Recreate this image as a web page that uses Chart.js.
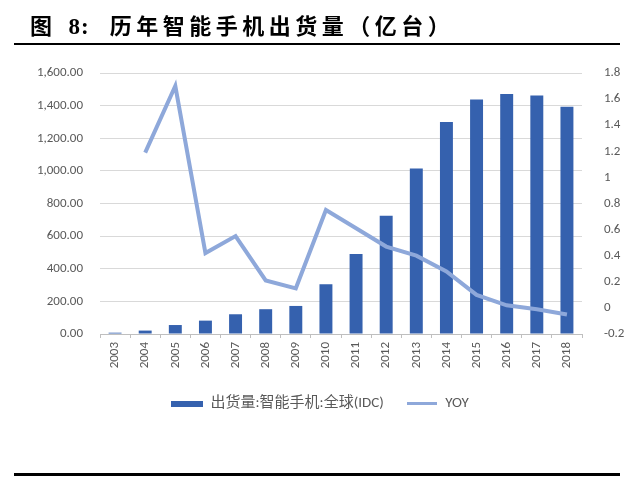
<!DOCTYPE html>
<html>
<head>
<meta charset="utf-8">
<script src="https://cdn.jsdelivr.net/npm/chart.js@4.4.0/dist/chart.umd.min.js"></script>
<style>
  html, body { margin: 0; padding: 0; background: #fff; }
  #wrap { position: relative; width: 640px; height: 477px; overflow: hidden; }
  #titulo {
    position: absolute; left: 30px; top: 8px;
    font-family: "Noto Sans CJK SC", "DejaVu Serif", serif;
    font-weight: bold; font-size: 22px; color: #000; letter-spacing: 4.5px;
  }
  #titulo .num { font-family: "Liberation Serif", serif; font-size: 23px; letter-spacing: 1px; margin-left: 12px; margin-right: 20px; }
  #linhaTopo { position: absolute; left: 14px; width: 606px; top: 43px; height: 2px; background: #000; }
  #linhaBase { position: absolute; left: 14px; width: 606px; top: 473px; height: 3px; background: #000; }
  canvas { position: absolute; left: 0; top: 0; }
</style>
</head>
<body>
<div id="wrap">
  <canvas id="grafico" width="640" height="477"></canvas>
  <div id="titulo">图<span class="num">8:</span>历年智能手机出货量（亿台）</div>
  <div id="linhaTopo"></div>
  <div id="linhaBase"></div>
</div>
<script>
// dados
const anos = ['2003', '2004', '2005', '2006', '2007', '2008', '2009', '2010',
              '2011', '2012', '2013', '2014', '2015', '2016', '2017', '2018'];
const remessas = [8, 21, 55, 82, 121, 152, 172, 305, 491, 725, 1015, 1300, 1437, 1472, 1462, 1393];
const yoy = [null, 1.19, 1.70, 0.42, 0.55, 0.21, 0.15, 0.75, 0.61, 0.47, 0.40, 0.28, 0.10, 0.02, -0.01, -0.05];
const ticksEsquerda = [0, 200, 400, 600, 800, 1000, 1200, 1400, 1600];
const ticksDireita = [-0.2, 0, 0.2, 0.4, 0.6, 0.8, 1, 1.2, 1.4, 1.6, 1.8];

const corBarra = '#3561ae';
const corLinha = '#8ea8da';
const fonte = "Calibri, Carlito, Lato, 'Noto Sans CJK SC', sans-serif";

// pequenos ícones para a legenda
function icone(w, h, cor) {
    const c = document.createElement('canvas');
    c.width = w; c.height = h;
    const g = c.getContext('2d');
    g.fillStyle = cor;
    g.fillRect(0, 0, w, h);
    return c;
}
const iconeBarra = icone(32, 6, corBarra);
const iconeLinha = icone(30, 3, corLinha);

const ctx = document.getElementById('grafico').getContext('2d');
new Chart(ctx, {
    data: {
        labels: anos,
        datasets: [
            {
                type: 'line',
                label: 'YOY',
                data: yoy,
                yAxisID: 'y1',
                borderColor: corLinha,
                backgroundColor: corLinha,
                borderWidth: 4,
                pointRadius: 0,
                tension: 0,
                order: 0
            },
            {
                type: 'bar',
                label: '出货量:智能手机:全球(IDC)',
                data: remessas,
                yAxisID: 'y',
                backgroundColor: corBarra,
                barPercentage: 0.43,
                categoryPercentage: 1,
                order: 1
            }
        ]
    },
    options: {
        responsive: false,
        animation: false,
        layout: { padding: { top: 73, left: 0, right: 0, bottom: 56 } },
        plugins: {
            tooltip: { enabled: false },
            legend: {
                position: 'bottom',
                reverse: true,
                labels: {
                    usePointStyle: true,
                    pointStyleWidth: 32,
                    padding: 22,
                    color: '#595959',
                    font: { family: fonte, size: 15 },
                    generateLabels: function (chart) {
                        return chart.data.datasets.map(function (ds, i) {
                            return {
                                text: ds.label,
                                datasetIndex: i,
                                pointStyle: ds.type === 'bar' ? iconeBarra : iconeLinha,
                                fontColor: '#595959',
                                lineWidth: 0,
                                hidden: false
                            };
                        });
                    }
                }
            }
        },
        scales: {
            x: {
                grid: { display: true, drawOnChartArea: false, offset: true, tickLength: 4, color: '#bfbfbf' },
                border: { color: '#bfbfbf' },
                ticks: {
                    color: '#595959',
                    font: { family: fonte, size: 13 },
                    maxRotation: 90,
                    minRotation: 90,
                    autoSkip: false,
                    padding: 4
                },
                afterFit: function (scale) { scale.height = 40; }
            },
            y: {
                position: 'left',
                min: 0,
                max: 1600,
                afterBuildTicks: function (scale) {
                    scale.ticks = ticksEsquerda.map(v => ({ value: v }));
                },
                grid: { color: '#d9d9d9', drawTicks: false },
                border: { display: false },
                ticks: {
                    color: '#595959',
                    font: { family: fonte, size: 13 },
                    padding: 17,
                    callback: function (v) {
                        return v.toLocaleString('en-US', { minimumFractionDigits: 2, maximumFractionDigits: 2 });
                    }
                },
                afterFit: function (scale) { scale.width = 100; }
            },
            y1: {
                position: 'right',
                min: -0.2,
                max: 1.8,
                afterBuildTicks: function (scale) {
                    scale.ticks = ticksDireita.map(v => ({ value: v }));
                },
                grid: { display: false },
                border: { display: false },
                ticks: {
                    color: '#595959',
                    font: { family: fonte, size: 13 },
                    padding: 14,
                    callback: function (v) {
                        return String(Math.round(v * 10) / 10);
                    }
                },
                afterFit: function (scale) { scale.width = 58; }
            }
        }
    }
});
</script>
</body>
</html>
